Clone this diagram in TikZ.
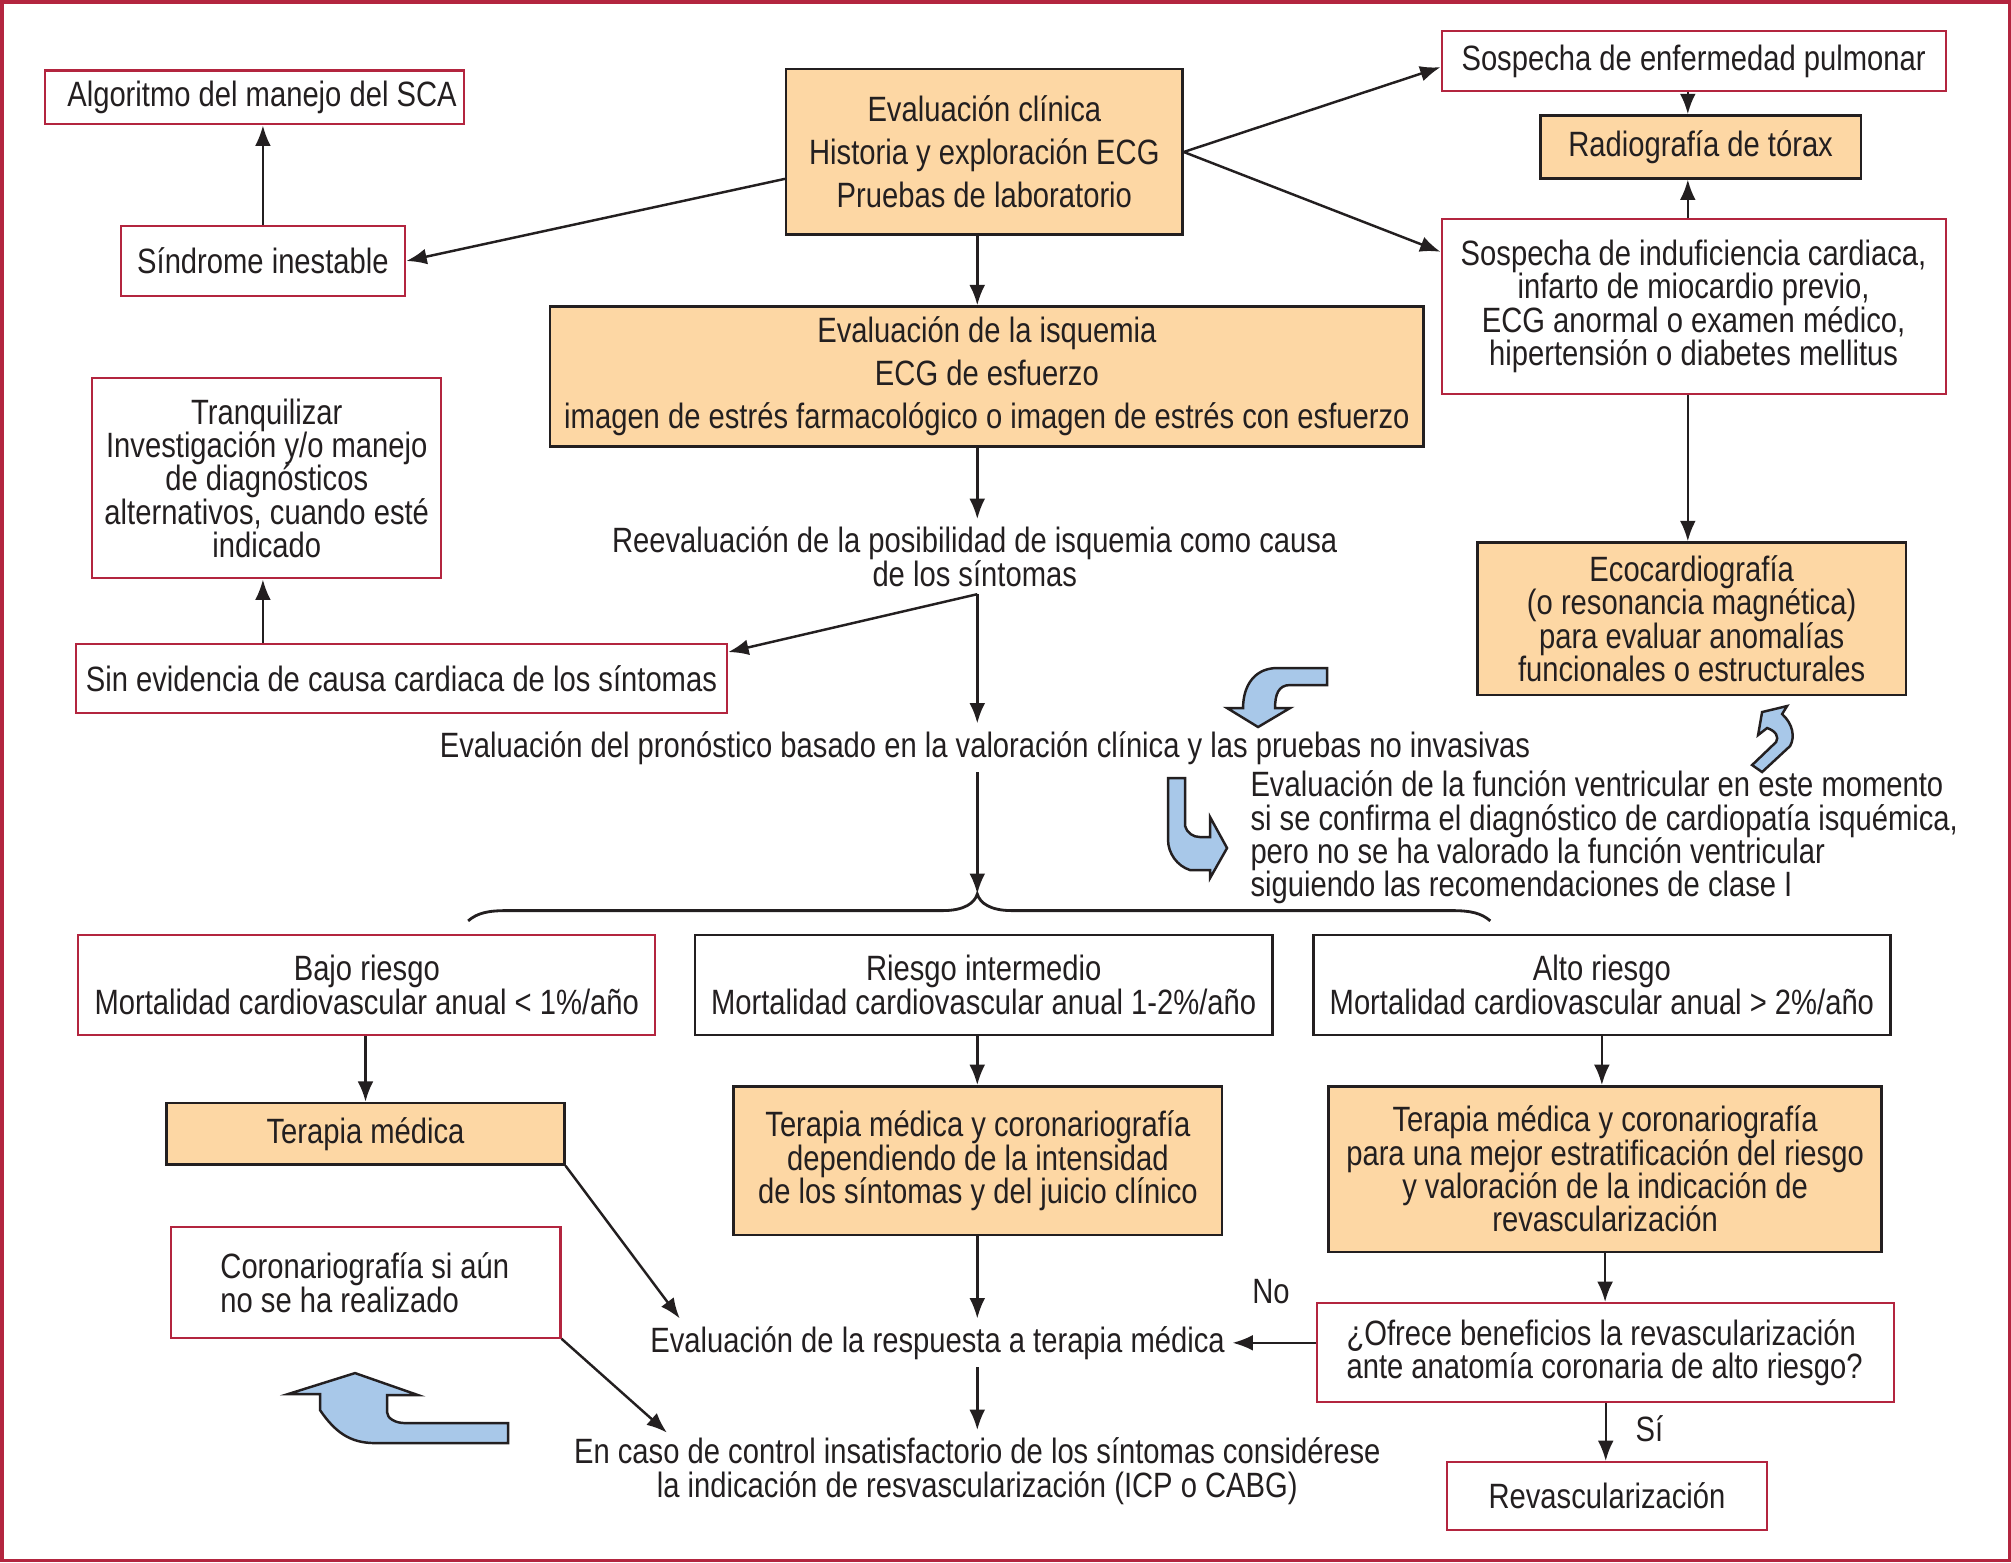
\documentclass[tikz,border=0pt]{standalone}
\usepackage{fontspec}
\setmainfont{Liberation Sans}[FakeStretch=0.83]
\usetikzlibrary{arrows.meta,calc}
\definecolor{rb}{HTML}{B3253F}
\definecolor{ob}{HTML}{FDD7A4}
\definecolor{bl}{HTML}{A8C8E9}
\definecolor{tx}{HTML}{231F20}
\begin{document}
\begin{tikzpicture}[x=0.012825cm,y=-0.012825cm,
  font=\fontsize{10}{9.5}\selectfont, text=tx,
  sz/.style 2 args={minimum width=#1*0.012825cm, minimum height=#2*0.012825cm},
  rbox/.style={draw=rb, fill=white, line width=0.6pt, inner sep=0pt, align=center},
  obox/.style={draw=tx, fill=ob, line width=0.7pt, inner sep=0pt, align=center},
  kbox/.style={draw=tx, fill=white, line width=0.7pt, inner sep=0pt, align=center},
  txt/.style={inner sep=2pt, align=center},
  arr/.style={draw=tx, line width=0.7pt, -{Latex[length=5.8pt,width=4.5pt]}},
  barrow/.style={draw=tx, fill=bl, line width=0.7pt, line join=miter}]
\useasboundingbox (0,0) rectangle (1568,1218);
\draw[rb, line width=0.9pt] (1.5,1.5) rectangle (1566.5,1216.5);

\coordinate (mx) at (762,0);
\coordinate (lx) at (205,0);
\coordinate (vx) at (1316,0);

% boxes
\node[rbox, sz={327}{42}, text width=4.04cm, align=flush right] (alg) at (198.5,76) {Algoritmo del manejo del SCA};
\node[rbox, sz={222}{55}] (sind) at (205,203.5) {Síndrome inestable};
\node[obox, sz={309}{129}, font=\fontsize{10}{12.2}\selectfont] (clin) at (767.5,118.5) {Evaluación clínica\\Historia y exploración ECG\\Pruebas de laboratorio};
\node[rbox, sz={393}{47}] (pulm) at (1320.5,47.5) {Sospecha de enfermedad pulmonar};
\node[obox, sz={250}{49}] (rad) at (1326,114.5) {Radiografía de tórax};
\node[rbox, sz={393}{136}] (induf) at (1320.5,239) {Sospecha de induficiencia cardiaca,\\infarto de miocardio previo,\\ECG anormal o examen médico,\\hipertensión o diabetes mellitus};
\node[obox, sz={681}{109}, font=\fontsize{10}{12.2}\selectfont] (isq) at (769.5,293.5) {Evaluación de la isquemia\\ECG de esfuerzo\\imagen de estrés farmacológico o imagen de estrés con esfuerzo};
\node[rbox, sz={272}{156}] (tranq) at (208,373) {Tranquilizar\\Investigación y/o manejo\\de diagnósticos\\alternativos, cuando esté\\indicado};
\node[obox, sz={334}{119}] (eco) at (1319,482.5) {Ecocardiografía\\(o resonancia magnética)\\para evaluar anomalías\\funcionales o estructurales};
\node[rbox, sz={508}{54}] (sin) at (313,529) {Sin evidencia de causa cardiaca de los síntomas};

\node[txt] (reeval) at (760,434) {Reevaluación de la posibilidad de isquemia como causa\\de los síntomas};
\node[txt] (pron) at (768,583) {Evaluación del pronóstico basado en la valoración clínica y las pruebas no invasivas};
\node[txt, anchor=west, align=left] (fv) at (969,653) {Evaluación de la función ventricular en este momento\\si se confirma el diagnóstico de cardiopatía isquémica,\\pero no se ha valorado la función ventricular\\siguiendo las recomendaciones de clase I};

\node[rbox, sz={450}{78}] (bajo) at (286,768) {Bajo riesgo\\Mortalidad cardiovascular anual < 1\%/año};
\node[kbox, sz={450}{78}] (inter) at (767,768) {Riesgo intermedio\\Mortalidad cardiovascular anual 1-2\%/año};
\node[kbox, sz={450}{78}] (alto) at (1249,768) {Alto riesgo\\Mortalidad cardiovascular anual > 2\%/año};
\node[obox, sz={310}{48}] (ter1) at (285,884) {Terapia médica};
\node[obox, sz={381}{116}] (ter2) at (762.5,905) {Terapia médica y coronariografía\\dependiendo de la intensidad\\de los síntomas y del juicio clínico};
\node[obox, sz={431}{129}] (ter3) at (1251.5,911.5) {Terapia médica y coronariografía\\para una mejor estratificación del riesgo\\y valoración de la indicación de\\revascularización};
\node[rbox, sz={304}{86}, text width=2.9cm, align=flush left] (coro) at (285,1000) {Coronariografía si aún\\no se ha realizado};
\node[txt] (resp) at (731,1047) {Evaluación de la respuesta a terapia médica};
\node[rbox, sz={450}{77}, text width=5.18cm, align=flush left] (ofr) at (1252,1054.5) {¿Ofrece beneficios la revascularización\\ante anatomía coronaria de alto riesgo?};
\node[rbox, sz={250}{53}] (revasc) at (1253,1166.5) {Revascularización};
\node[txt] (caso) at (762,1147) {En caso de control insatisfactorio de los síntomas considérese\\la indicación de resvascularización (ICP o CABG)};
\node[txt] (no) at (991,1007) {No};
\node[txt] (si) at (1286,1114) {Sí};

% free ends
\coordinate (bracetip) at (762,697);
\coordinate (t1end) at (530,1028);
\coordinate (coend) at (520,1117);

% connectors
\draw[arr] ($(clin.north west)!0.66!(clin.south west)$) -- (sind.east);
\draw[arr] (sind.north -| lx) -- (alg.south -| lx);
\draw[arr] (clin.east) -- ($(pulm.north west)!0.6!(pulm.south west)$);
\draw[arr] (clin.east) -- ($(induf.north west)!0.19!(induf.south west)$);
\draw[arr] (pulm.south -| vx) -- (rad.north -| vx);
\draw[arr] (induf.north -| vx) -- (rad.south -| vx);
\draw[arr] (induf.south -| vx) -- (eco.north -| vx);
\draw[arr] (clin.south -| mx) -- (isq.north -| mx);
\draw[arr] (isq.south -| mx) -- (reeval.north -| mx);
\draw[arr] (reeval.south -| mx) -- (pron.north -| mx);
\draw[arr] (reeval.south -| mx) -- ($(sin.north east)!0.13!(sin.south east)$);
\draw[arr] (sin.north -| lx) -- (tranq.south -| lx);
\draw[arr] (pron.south -| mx) -- (bracetip);
\draw[tx, line width=0.8pt] (365,718) .. controls (372,712) and (380,710) .. (395,710) -- (735,710) .. controls (752,710) and (760,704) .. (bracetip) .. controls (764,704) and (772,710) .. (789,710) -- (1132,710) .. controls (1147,710) and (1155,712) .. (1162,718);
\draw[arr] (bajo.south -| ter1.north) -- (ter1.north);
\draw[arr] (inter.south -| mx) -- (ter2.north -| mx);
\draw[arr] (alto.south) -- (alto.south |- ter3.north);
\draw[arr] (ter1.south east) -- (t1end);
\draw[arr] (ter2.south -| mx) -- (resp.north -| mx);
\draw[arr] (resp.south -| mx) -- (caso.north -| mx);
\draw[arr] (ter3.south) -- (ter3.south |- ofr.north);
\draw[arr] (ofr.west |- resp.east) -- (resp.east);
\draw[arr] (ofr.south) -- (ofr.south |- revasc.north);
\draw[arr] (coro.south east) -- (coend);

% blue arrows (original pixel units)
\begin{scope}[x=0.01cm,y=-0.01cm]
\draw[barrow] (1327,668) -- (1277,668) .. controls (1255,668) and (1243,685) .. (1243,708) -- (1227,708) -- (1258,727) -- (1290,708) -- (1275,708) .. controls (1275,695) and (1278,685) .. (1290,685) -- (1327,685) -- cycle;
\draw[barrow] (1168,778) -- (1185,778) -- (1185,826) .. controls (1187,833) and (1193,837) .. (1200,837) -- (1210,837) -- (1210,817) -- (1227,848) -- (1210,878) -- (1210,870) -- (1190,870) .. controls (1177,866) and (1168,853) .. (1168,840) -- cycle;
\draw[barrow] (1762,712) -- (1787,706) -- (1782,714) .. controls (1793,724) and (1795,737) .. (1790,746) -- (1762,772) -- (1752,765) -- (1776,742) .. controls (1779,737) and (1776,731) .. (1767,728) -- (1758,735) -- cycle;
\draw[barrow] (508,1423) -- (405,1423) .. controls (395,1423) and (387,1418) .. (387,1412) -- (387,1395) -- (418,1395) -- (355,1373) -- (288,1394) -- (320,1394) -- (320,1410) .. controls (335,1432) and (350,1443) .. (375,1443) -- (508,1443) -- cycle;
\end{scope}
\end{tikzpicture}
\end{document}
